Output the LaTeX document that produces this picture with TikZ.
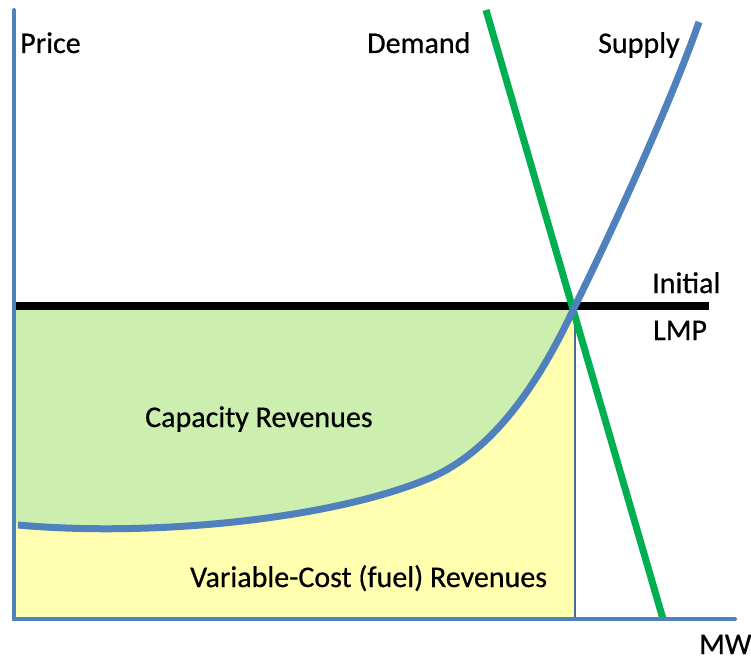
\documentclass[tikz,border=0pt]{standalone}
\usepackage{fontspec}
\setmainfont{Carlito}
\newfontfamily\lblfont{Carlito}[FakeBold=0.6]
\definecolor{axisblue}{HTML}{4F81BD}
\definecolor{demgreen}{HTML}{00B050}
\definecolor{capgreen}{HTML}{CCEEAF}
\definecolor{varyellow}{HTML}{FFFFAF}
\definecolor{qline}{HTML}{4A6A94}
\begin{document}
\begin{tikzpicture}[x=1pt,y=-1pt,
    lbl/.style={anchor=base west, inner sep=0pt, font=\lblfont\fontsize{30}{36}\selectfont},
    axisline/.style={axisblue, line width=4pt},
    curveline/.style={line width=7pt}]
    \useasboundingbox (0,0) rectangle (751,660);

    \coordinate (o) at (14,619);
    \coordinate (ytop) at (14,10);
    \coordinate (xend) at (735,619);
    \coordinate (eq) at (575,306);
    \coordinate (lmpl) at (14,306);
    \coordinate (lmpr) at (709,306);
    \coordinate (dtop) at (486,10);
    \coordinate (dbot) at (663,619);
    \coordinate (qbot) at (575,619);
    \coordinate (sbot) at (18,525);
    \coordinate (smid) at (430,478);
    \coordinate (stop) at (699,22);

    % revenue areas
    \fill[varyellow] (o) rectangle (eq);
    \fill[capgreen] (lmpl) -- (14,525) -- (sbot) .. controls (150,537) and (330,520) .. (smid)
        .. controls (500,448) and (545,370) .. (eq) -- cycle;

    \draw[qline, line width=2.5pt] (eq) -- (qbot);
    \draw[black, line width=7.5pt] (lmpl) -- (lmpr);
    \draw[demgreen, curveline] (dtop) -- (dbot);
    \draw[axisblue, curveline] (sbot) .. controls (150,537) and (330,520) .. (smid)
        .. controls (500,448) and (545,370) .. (eq)
        .. controls (610,235) and (670,105) .. (stop);

    \draw[axisline, line cap=round] (ytop) -- (o) -- (xend);

    \node[lbl] (price) at (20,53) {Price};
    \node[lbl] (demand) at (367,53) {Demand};
    \node[lbl] (supply) at (598,53) {Supply};
    \node[lbl] (initial) at (652,293) {Initial};
    \node[lbl] (lmp) at (653,340) {LMP};
    \node[lbl] (capacity) at (145,427) {Capacity Revenues};
    \node[lbl] (variable) at (190,587) {Variable-Cost (fuel) Revenues};
    \node[lbl] (mw) at (699,654) {MW};
\end{tikzpicture}
\end{document}
